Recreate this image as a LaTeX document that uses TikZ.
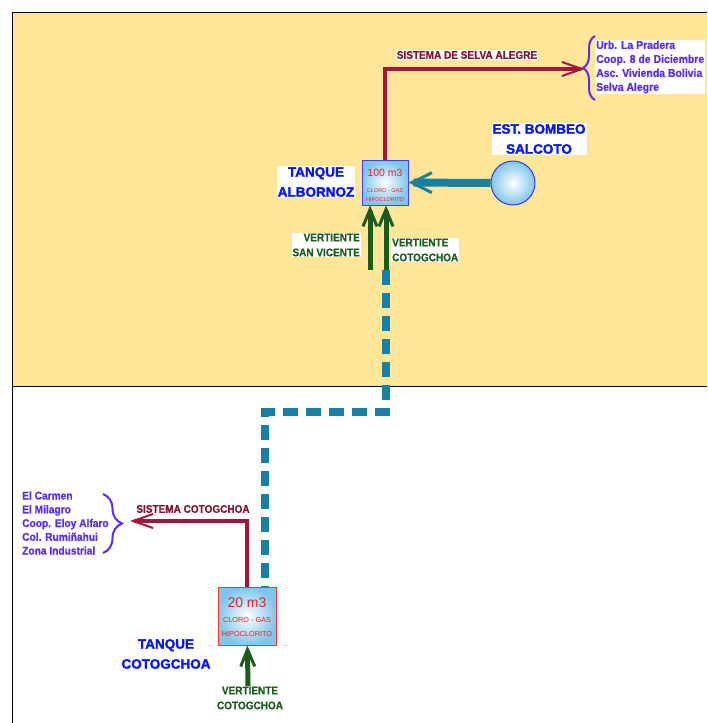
\documentclass[tikz,border=0pt]{standalone}
\usepackage{fontspec}
\setmainfont{Liberation Sans}
\newfontfamily\narrowfont[FakeStretch=0.91,FakeBold=0.6]{Liberation Sans Bold}
\newfontfamily\heavyfont[FakeBold=2]{Liberation Sans Bold}
\usetikzlibrary{arrows.meta}
\usetikzlibrary{decorations.pathreplacing}
\definecolor{fondo}{HTML}{FFE699}
\definecolor{rojo}{HTML}{A3173C}
\definecolor{rojotxt}{HTML}{7E1430}
\definecolor{celeste}{HTML}{1A7FA3}
\definecolor{verde}{HTML}{1D5A1D}
\definecolor{azul}{HTML}{0A18F0}
\definecolor{violeta}{HTML}{5A2CF2}
\definecolor{tinta}{HTML}{E8202A}
\definecolor{agua}{HTML}{80C6EA}
\tikzset{
  tanque/.style={shape=rectangle,inner color=white,outer color=agua,line width=1pt,
    text=tinta,align=center,inner sep=0pt},
  titulo/.style={fill=white,text=azul,font=\heavyfont\fontsize{13.5}{20}\selectfont,
    align=center,inner sep=1pt},
  vert/.style={fill=white,text=verde,font=\narrowfont\fontsize{11}{15}\selectfont,
    inner sep=1pt},
  sistema/.style={fill=white,text=rojotxt,font=\narrowfont\fontsize{11}{12}\selectfont,
    inner sep=1pt},
  lista/.style={fill=white,text=violeta,font=\narrowfont\fontsize{11.5}{14}\selectfont,
    align=left,inner sep=1pt},
  salida/.style={rojo,line width=4pt,-{Straight Barb[length=20pt,width=14pt,line width=2pt]}},
  bombeo/.style={celeste,line width=8pt,-{Straight Barb[length=20pt,width=20pt,line width=3pt]}},
  fuente/.style={verde,line width=5pt,-{Straight Barb[length=17pt,width=14pt,line width=3pt]}},
  tubo/.style={celeste,line width=8pt,dash pattern=on 15pt off 8pt},
  llave/.style={violeta,line width=2pt,decorate,decoration={brace}}
}
\begin{document}
\begin{tikzpicture}[x=1pt,y=-1pt]
    \useasboundingbox (0,0) rectangle (707,723);
    \fill[fondo] (12,12) rectangle (707,386);
    \draw[line width=1pt] (707,12) -- (12,12) -- (12,723);
    \draw[line width=0.8pt] (12,386) -- (707,386);

    \node[tanque,draw=blue!75,minimum width=46pt,minimum height=45pt] (TA) at (385,182.5) {};
    \node[text=tinta,font=\fontsize{10.5}{12}\selectfont] (TAv) at (385,173) {100 m3};
    \node[text=tinta,font=\fontsize{5.5}{9.5}\selectfont,align=center] (TAc) at (385,195) {CLORO - GAS\\HIPOCLORITO};
    \node[tanque,draw=red!80,minimum width=58pt,minimum height=58pt] (TC) at (247,616) {};
    \node[text=tinta,font=\fontsize{14}{16}\selectfont] (TCv) at (247,603) {20 m3};
    \node[text=tinta,font=\fontsize{7.3}{14}\selectfont,align=center] (TCc) at (247,627) {CLORO - GAS\\HIPOCLORITO};
    \node[shape=circle,inner color=white,outer color=agua,draw=blue!80,line width=1pt,
      minimum size=44pt,inner sep=0pt] (EB) at (513,183) {};

    \node[titulo] (TAt) at (316,182) {TANQUE\\ALBORNOZ};
    \node[titulo] (EBt) at (539,139) {EST. BOMBEO\\SALCOTO};
    \node[titulo] (TCt) at (166,654) {TANQUE\\COTOGCHOA};
    \node[vert,align=right,anchor=east] (VS) at (361,245) {VERTIENTE\\SAN VICENTE};
    \node[vert,align=left,anchor=west] (VC) at (391,250) {VERTIENTE\\COTOGCHOA};
    \node[vert,align=center] (VB) at (250,698) {VERTIENTE\\COTOGCHOA};
    \node[sistema] (SS) at (467,55) {SISTEMA DE SELVA ALEGRE};
    \node[sistema] (SC) at (193,509) {SISTEMA COTOGCHOA};
    \node[lista,anchor=west] (LS) at (595,67) {Urb. La Pradera\\Coop. 8 de Diciembre\\Asc. Vivienda Bolivia\\Selva Alegre};
    \node[lista,anchor=west,font=\narrowfont\fontsize{11.2}{13.75}\selectfont] (LC) at (21,523)
      {El Carmen\\El Milagro\\Coop. Eloy Alfaro\\Col. Rumiñahui\\Zona Industrial};

    \coordinate (s1) at (585,69);
    \coordinate (s2) at (130,521);
    \coordinate (v1) at (370,270);
    \coordinate (v2) at (386,270);
    \coordinate (v3) at (248,686);
    \coordinate (q1) at (265,412);

    \draw[salida] (TA.north) |- (s1);
    \draw[salida] (TC.north) |- (s2);
    \path [bombeo] (EB) edge (TA);
    \path [fuente] (v1) edge (v1 |- TA.south);
    \path [fuente] (v2) edge (v2 |- TA.south);
    \path [fuente] (v3) edge (TC);
    \draw[tubo] (v2) |- (q1) -- (q1 |- TC.north);
    \draw[llave,decoration={amplitude=12pt}] (595,100) -- (595,36);
    \draw[llave,decoration={amplitude=19pt}] (103,494) -- (103,553);
\end{tikzpicture}
\end{document}
